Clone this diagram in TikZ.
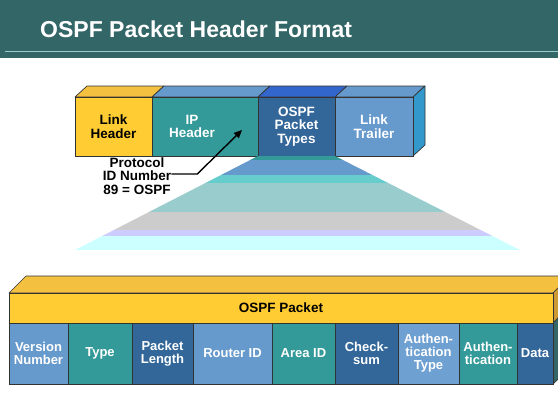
\documentclass[tikz,border=0pt]{standalone}
\usepackage{fontspec}
\setmainfont{Liberation Sans}
\usetikzlibrary{arrows.meta, positioning}
\definecolor{titlegreen}{RGB}{51,102,102}
\definecolor{titleline}{RGB}{153,204,204}
\definecolor{pktyellow}{RGB}{255,204,51}
\definecolor{pkttop}{RGB}{244,192,64}
\definecolor{pktside}{RGB}{204,153,51}
\definecolor{pktteal}{RGB}{51,153,153}
\definecolor{pktblue}{RGB}{51,102,153}
\definecolor{pktsky}{RGB}{102,153,204}
\definecolor{pktsky2}{RGB}{111,160,210}
\definecolor{pktroyal}{RGB}{51,102,204}
\definecolor{pktcyan}{RGB}{51,153,204}
\definecolor{fancyan}{RGB}{102,204,204}
\definecolor{fanteal}{RGB}{153,204,204}
\definecolor{fangray}{RGB}{204,204,204}
\definecolor{fanlav}{RGB}{204,204,255}
\definecolor{fanice}{RGB}{204,255,255}
\tikzset{
	cell/.style={draw=black!80, line width=0.7pt, inner sep=0pt, outer sep=0pt,
		anchor=north west, align=center, text=white,
		font=\bfseries\fontsize{13}{13}\selectfont},
	darkcell/.style={cell, text=black},
	celltext/.style={align=center, text=white, inner sep=0pt,
		font=\bfseries\fontsize{13.5}{13.5}\selectfont},
	face/.style={draw=black!80, line width=0.7pt, line join=round},
	note/.style={align=center, inner sep=0pt, font=\bfseries\fontsize{13.5}{13.5}\selectfont}
}
\begin{document}
\begin{tikzpicture}[x=1pt, y=-1pt]
	\clip (0,0) rectangle (558,399);
	% title bar
	\fill[titlegreen] (0,0) rectangle (558,58);
	\draw[titleline, line width=1pt] (5,51) -- (558,51);
	\node[anchor=base west, inner sep=0pt, text=white, font=\bfseries\fontsize{23}{23}\selectfont] (title) at (40,37.5) {OSPF Packet Header Format};

	% frame on the wire
	\fill[face, fill=pkttop] (75,97) -- (87,86) -- (164,86) -- (152,97) -- cycle;
	\fill[face, fill=pktsky] (152,97) -- (164,86) -- (270,86) -- (258,97) -- cycle;
	\fill[face, fill=pktroyal] (258,97) -- (270,86) -- (347,86) -- (335,97) -- cycle;
	\fill[face, fill=pktsky] (335,97) -- (347,86) -- (425,86) -- (413,97) -- cycle;
	\fill[face, fill=pktcyan] (413,97) -- (425,86) -- (425,145) -- (413,156) -- cycle;
	\node[darkcell, fill=pktyellow, minimum width=77, minimum height=59, font=\bfseries\fontsize{13.5}{13.5}\selectfont] (lhdr) at (75,97) {Link\\Header};
	\node[cell, fill=pktteal, minimum width=106, minimum height=59] (iphdr) [right=0pt of lhdr] {};
	\node[celltext] (iptext) at ([xshift=-13pt]iphdr.center) {IP\\Header};
	\node[cell, fill=pktblue, minimum width=77, minimum height=59, font=\bfseries\fontsize{13.5}{13.5}\selectfont] (ospft) [right=0pt of iphdr] {OSPF\\Packet\\Types};
	\node[cell, fill=pktsky, minimum width=78, minimum height=59, font=\bfseries\fontsize{13.5}{13.5}\selectfont] (ltrl) [right=0pt of ospft] {Link\\Trailer};

	% protocol number callout
	\node[note] (proto) at (137,176) {Protocol\\ID Number\\89 = OSPF};
	\coordinate (iptip) at (242,130);
	\draw[line width=1.4pt, -{Triangle[length=8pt, width=7pt]}] ([yshift=2pt]proto.east) -- ++(26,0) -- (iptip);

	% fan out
	\begin{scope}
		\clip (ospft.south west) -- (ospft.south east) -- (520,250) -- (75,250) -- cycle;
		\foreach \ya/\yb/\c in {150/160/pktteal, 160/175/pktsky, 175/183/fancyan, 183/212/fanteal,
			212/230/fangray, 230/236/fanlav, 236/250/fanice}
			\fill[\c] (60,\ya) rectangle (540,\yb);
	\end{scope}

	% OSPF packet
	\fill[face, fill=pkttop] (9,293) -- (26,276) -- (570,276) -- (553,293) -- cycle;
	\fill[face, fill=pktside] (553,293) -- (570,276) -- (570,306) -- (553,323) -- cycle;
	\fill[face, fill=titlegreen] (553,323) -- (570,306) -- (570,367) -- (553,384) -- cycle;
	\node[darkcell, fill=pktyellow, minimum width=544, minimum height=30, font=\bfseries\fontsize{13.5}{13.5}\selectfont] (ospfpkt) at (9,293) {OSPF Packet};
	\node[cell, fill=pktsky, minimum width=59, minimum height=61] (ver) at (9,323) {Version\\Number};
	\node[cell, fill=pktteal, minimum width=64, minimum height=61] (type) [right=0pt of ver] {Type};
	\node[cell, fill=pktblue, minimum width=61, minimum height=61] (plen) [right=0pt of type] {Packet\\Length};
	\node[cell, fill=pktsky, minimum width=79, minimum height=61] (rtrid) [right=0pt of plen] {Router ID};
	\node[cell, fill=pktteal, minimum width=63, minimum height=61] (areaid) [right=0pt of rtrid] {Area ID};
	\node[cell, fill=pktblue, minimum width=63, minimum height=61] (csum) [right=0pt of areaid] {Check-\\sum};
	\node[cell, fill=pktsky2, minimum width=61, minimum height=61] (autype) [right=0pt of csum] {Authen-\\tication\\Type};
	\node[cell, fill=pktteal, minimum width=58, minimum height=61] (auth) [right=0pt of autype] {Authen-\\tication};
	\node[cell, fill=pktblue, minimum width=36, minimum height=61] (data) [right=0pt of auth] {Data};
\end{tikzpicture}
\end{document}
